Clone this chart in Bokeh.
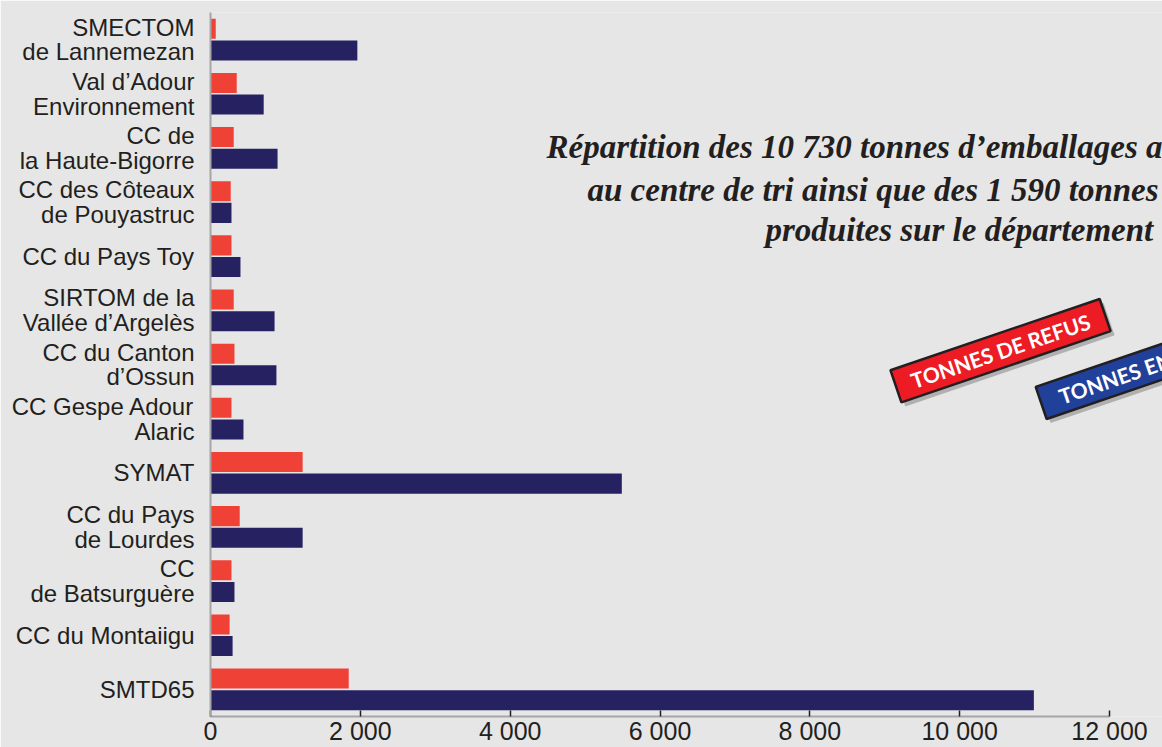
from bokeh.plotting import figure
from bokeh.models import FixedTicker, Range1d, ColumnDataSource
from bokeh.transform import dodge
from bokeh.core.properties import value
from bokeh.embed import file_html
from bokeh.resources import INLINE

categories = [
    "SMECTOM\nde Lannemezan",
    "Val d’Adour\nEnvironnement",
    "CC de\nla Haute-Bigorre",
    "CC des Côteaux\nde Pouyastruc",
    "CC du Pays Toy",
    "SIRTOM de la\nVallée d’Argelès",
    "CC du Canton\nd’Ossun",
    "CC Gespe Adour\nAlaric",
    "SYMAT",
    "CC du Pays\nde Lourdes",
    "CC\nde Batsurguère",
    "CC du Montaiigu",
    "SMTD65",
]
refus = [70, 350, 310, 270, 280, 310, 320, 280, 1230, 390, 280, 255, 1845]
entrants = [1960, 710, 895, 280, 400, 855, 880, 440, 5490, 1230, 320, 295, 10990]
x_ticks = [0, 2000, 4000, 6000, 8000, 10000, 12000]
x_tick_labels = ["0", "2 000", "4 000", "6 000", "8 000", "10 000", "12 000"]
title_lines = [
    "Répartition des 10 730 tonnes d’emballages arrivés",
    "au centre de tri ainsi que des 1 590 tonnes",
    "produites sur le département",
]
legend_labels = ["TONNES DE REFUS", "TONNES ENTRANTES"]

BG = "#e6e6e6"
RED = "#ef4136"
NAVY = "#262262"
TXT = "#231f20"

n = len(categories)
pos = list(range(n - 1, -1, -1))
src = ColumnDataSource(dict(pos=pos, refus=refus, entrants=entrants))

p = figure(width=1162, height=747, output_backend="svg", toolbar_location=None,
           x_range=Range1d(0, 12707), y_range=Range1d(-0.5, n - 0.5))
p.background_fill_color = BG
p.border_fill_color = BG
p.outline_line_color = None
p.min_border_top = 12
p.min_border_left = 210
p.min_border_right = 0
p.min_border_bottom = 0
p.xgrid.visible = False
p.ygrid.visible = False

p.hbar(y=dodge("pos", 0.2), left=0, right="refus", height=0.37, source=src,
       fill_color=RED, line_color=None)
p.hbar(y=dodge("pos", -0.2), left=0, right="entrants", height=0.37, source=src,
       fill_color=NAVY, line_color=None)

# y axis
p.yaxis.ticker = FixedTicker(ticks=pos)
p.yaxis.major_label_overrides = {pp: c for pp, c in zip(pos, categories)}
p.yaxis.major_tick_line_color = None
p.yaxis.minor_tick_line_color = None
p.yaxis.major_tick_out = 0
p.yaxis.major_tick_in = 0
p.yaxis.axis_line_color = "#a6a6a6"
p.yaxis.axis_line_width = 2
p.yaxis.major_label_standoff = 16
p.yaxis.major_label_text_font = "Liberation Sans"
p.yaxis.major_label_text_font_size = "24px"
p.yaxis.major_label_text_color = TXT
p.yaxis.major_label_text_line_height = 0.92

# x axis
p.xaxis.ticker = FixedTicker(ticks=x_ticks)
p.xaxis.major_label_overrides = {t: l for t, l in zip(x_ticks, x_tick_labels)}
p.xaxis.bounds = (0, 12000)
p.xaxis.axis_line_color = "#a6a6a6"
p.xaxis.axis_line_width = 2
p.xaxis.major_tick_in = 6
p.xaxis.major_tick_out = 0
p.xaxis.major_tick_line_color = TXT
p.xaxis.major_tick_line_width = 1.5
p.xaxis.minor_tick_line_color = None
p.xaxis.major_label_standoff = 0
p.xaxis.major_label_text_font = "Liberation Sans"
p.xaxis.major_label_text_font_size = "25px"
p.xaxis.major_label_text_color = TXT

# title (cropped at the right edge like the reference)
p.text(x=[4485, 5032, 7408], y=[10.009, 9.229, 8.485], text=title_lines,
       text_font=value("Liberation Serif"), text_font_style="bold italic",
       text_font_size="33px", text_color=TXT, text_align="left",
       text_baseline="alphabetic")

# legend tags
ang = 0.328
lx = [10545, 12667]
ly = [6.255, 6.034]
lw = [221, 250]
p.rect(x=[v + 53 for v in lx], y=[v - 0.075 for v in ly], width=lw, height=34,
       width_units="screen", height_units="screen", angle=ang,
       fill_color="#8c8c8c", fill_alpha=0.6, line_color=None)
p.rect(x=lx, y=ly, width=lw, height=34, width_units="screen",
       height_units="screen", angle=ang, fill_color=["#ed1c24", "#21409a"],
       line_color="#231f20", line_width=2.5)
p.text(x=lx, y=ly, text=legend_labels, angle=ang, text_align="center",
       text_baseline="middle", text_color="white",
       text_font=value("Lato"), text_font_style="bold", text_font_size="21px")

open("out.html", "w").write(file_html(p, INLINE))
